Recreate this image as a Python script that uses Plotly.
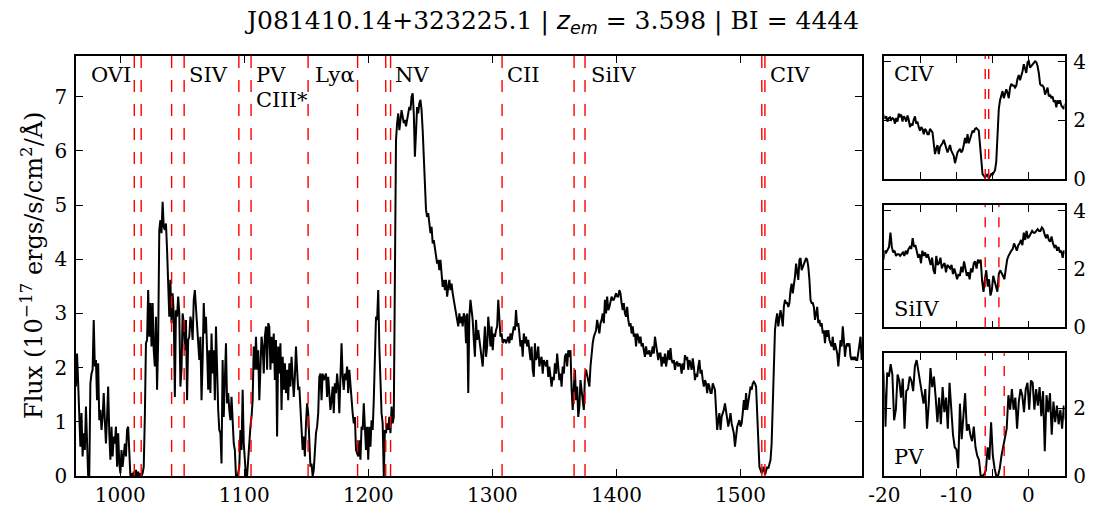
import numpy as np
import plotly.graph_objects as go

# ---------------- data ----------------
# rest-frame wavelength grid of the spectrum (Angstrom)
wave_start = 964.25
wave_step = 0.896

# flux (1e-17 erg/s/cm^2/A) in four consecutive pieces
flux_blue = [
    1.65, 2.26, 1.71, 1.22, 0.54, 1.16, 0.36, 0.79, 0.48, 1.28,
    0.48, 0.00, 0.00, 1.71, 1.89, 1.96, 2.88, 2.02, 2.14, 1.40,
    2.08, 1.03, 1.22, 0.85, 1.09, 1.53, 1.03, 0.60, 1.09, 1.65,
    0.79, 0.30, 0.91, 0.36, 0.73, 0.60, 0.91, 0.17, 0.79, 0.23,
    0.05, 0.48, 0.17, 0.42, 0.60, 0.36, 0.85, 0.91, 0.23, 0.00,
    0.05, 0.00, 0.08, 0.00, 0.11, 0.00, 0.08, 0.00, 0.05, 0.00,
    0.05, 0.17, 1.09, 2.45, 2.51, 3.43, 2.57, 3.19, 2.39, 3.19,
    2.32, 2.02, 2.94, 1.59, 2.51, 4.54, 4.72, 4.48, 5.06, 4.60,
    4.54, 4.66, 4.17, 3.62, 2.94, 3.62, 2.82, 3.37, 3.00, 1.46,
    3.06, 2.94, 3.31, 3.00, 1.65, 1.96, 3.00, 2.82, 2.32, 2.88,
    1.40, 2.51, 2.57, 2.94, 2.82, 2.51, 3.25, 3.43, 3.12, 2.82,
    2.51, 2.14, 2.57, 1.40, 2.14, 3.19, 2.63, 2.94, 2.32, 1.59,
    2.32, 1.53, 2.63, 1.89, 2.32, 1.40, 2.76, 1.89, 1.22, 0.85,
    0.79, 0.23, 2.14, 1.09, 1.71, 2.45, 1.34, 1.53, 1.22, 1.03,
    1.46, 0.85, 0.60, 0.48, 0.00, 0.00, 0.05, 0.17, 0.85, 0.48,
    1.59, 0.60, 0.23, 0.00, 0.00, 0.23, 0.60, 0.91, 1.09, 1.40,
    2.39, 1.96, 2.57, 1.96, 2.32, 1.40, 2.20, 2.57, 2.39, 1.89,
    2.57, 2.76, 1.96, 2.82,
]
flux_lya_nv = [
    2.76, 1.96, 2.57, 2.08, 2.63, 1.77, 2.51, 0.73, 2.39, 1.89,
    2.45, 1.22, 2.20, 1.59, 2.08, 1.53, 1.96, 1.40, 2.08, 1.65,
    2.20, 1.83, 1.46, 1.83, 2.39, 1.96, 1.59, 1.65, 1.22, 0.66,
    0.48, 0.73, 0.36, 0.97, 1.34, 1.16, 0.42, 0.17, 0.23, 0.00,
    0.11, 0.54, 0.79, 0.91, 1.16, 1.83, 1.89, 1.40, 1.89, 1.77,
    1.83, 1.89, 1.46, 1.83, 1.53, 1.22, 1.40, 1.65, 1.16, 1.71,
    1.53, 1.89, 1.65, 1.16, 1.83, 2.45, 1.83, 1.59, 1.89, 1.77,
    2.02, 1.53, 1.96, 1.65, 1.53, 1.16, 0.97, 1.09, 0.48, 0.42,
    0.36, 0.66, 0.30, 0.91, 0.85, 1.34, 0.79, 0.48, 0.91, 0.30,
    0.91, 0.54, 1.03, 0.85, 1.40, 2.08, 2.94, 2.88, 3.43, 2.39,
    1.77, 1.16, 0.97, 0.00, 0.85, 0.79, 0.97, 0.85, 1.09, 0.79,
    1.28, 0.97, 1.09, 3.62, 6.20, 6.51, 6.69, 6.38, 6.57, 6.75,
    6.63, 6.51, 6.57, 6.45, 6.57, 6.69, 6.81, 6.75, 7.00, 7.06,
    6.69, 5.89, 6.51, 6.81, 6.69, 6.88, 6.94, 6.75, 6.38, 5.71,
    5.40, 4.91, 4.78, 4.85, 4.66, 4.48, 4.60, 4.29, 4.35, 4.17,
    4.11, 3.92, 3.99, 3.80, 3.99, 3.80, 3.49, 3.62, 3.43, 3.62,
    3.31, 3.49, 3.62, 3.43, 3.55, 3.37, 3.25, 3.12, 3.00, 2.88,
    2.76, 3.00, 2.82, 2.94, 2.76, 3.00,
]
flux_siiv = [
    2.94, 2.45, 3.00, 1.53, 2.94, 3.25, 3.06, 2.88, 2.51, 2.20,
    2.88, 2.51, 2.69, 2.51, 2.32, 2.08, 2.02, 2.39, 2.76, 2.20,
    2.39, 2.94, 2.63, 2.39, 2.76, 2.32, 2.63, 2.57, 2.69, 2.76,
    3.25, 2.76, 2.57, 2.63, 2.45, 2.51, 2.51, 2.45, 2.51, 2.57,
    2.45, 2.63, 2.51, 2.69, 2.76, 2.69, 3.06, 2.76, 2.82, 2.63,
    2.39, 2.51, 2.20, 2.63, 2.45, 2.57, 2.39, 2.51, 2.26, 2.14,
    2.39, 1.96, 1.83, 2.45, 2.14, 2.20, 2.39, 2.02, 2.14, 2.20,
    1.89, 2.14, 2.08, 2.02, 2.14, 1.83, 2.02, 1.77, 1.65, 1.83,
    1.77, 2.08, 1.89, 2.26, 1.96, 1.77, 1.89, 1.65, 2.02, 1.89,
    2.20, 2.26, 2.02, 2.32, 2.20, 2.32, 1.59, 1.22, 1.65, 1.96,
    1.40, 1.65, 1.09, 1.28, 1.77, 1.53, 1.40, 1.22, 1.83, 1.96,
    1.83, 1.77, 1.65, 2.02, 2.32, 2.45, 2.57, 2.63, 2.69, 2.88,
    2.76, 2.63, 2.82, 2.88, 3.00, 2.82, 3.25, 3.00, 3.31, 3.06,
    3.12, 3.25, 3.31, 3.25, 3.25, 3.31, 3.37, 3.31, 3.31, 3.43,
    3.37, 3.19, 3.06, 3.19, 3.00, 2.94, 3.12, 2.88, 2.76, 2.82,
    2.63, 2.76, 2.57, 2.63, 2.39, 2.63, 2.57, 2.45, 2.57, 2.39,
    2.45, 2.32, 2.20, 2.39, 2.26, 2.26, 2.32, 2.20, 2.26, 2.39,
    2.26, 2.57, 2.39, 2.26, 2.14, 2.26,
]
flux_civ = [
    2.26, 2.02, 2.20, 2.08, 2.26, 2.02, 2.20, 2.32, 2.14, 2.36,
    2.14, 2.08, 2.14, 1.96, 2.08, 2.11, 2.02, 2.08, 2.05, 1.89,
    2.08, 1.96, 2.23, 2.14, 2.20, 1.96, 2.14, 2.08, 1.96, 2.17,
    2.02, 1.77, 1.89, 1.83, 2.02, 2.14, 1.89, 1.96, 1.77, 1.65,
    1.77, 1.71, 1.53, 1.71, 1.65, 1.53, 1.53, 1.71, 1.65, 1.59,
    1.22, 0.85, 1.03, 1.16, 0.85, 1.09, 1.16, 1.22, 1.34, 1.16,
    1.09, 0.91, 1.03, 1.16, 0.97, 0.85, 0.79, 0.54, 0.73, 0.91,
    0.97, 1.03, 0.91, 0.97, 1.16, 1.40, 1.22, 1.53, 1.22, 1.40,
    1.53, 1.65, 1.59, 1.71, 1.74, 1.71, 1.65, 1.16, 0.54, 0.17,
    0.11, 0.05, 0.11, 0.17, 0.02, 0.11, 0.17, 0.14, 0.23, 0.30,
    0.60, 1.46, 2.39, 2.69, 2.88, 3.00, 2.76, 2.88, 3.06, 2.94,
    2.76, 3.12, 3.25, 3.19, 3.19, 3.12, 3.19, 3.43, 3.55, 3.37,
    3.49, 3.68, 3.92, 3.80, 3.62, 3.99, 4.02, 3.80, 3.86, 3.92,
    3.99, 4.02, 3.99, 3.86, 3.62, 3.25, 3.19, 3.19, 3.12, 2.88,
    3.00, 3.12, 2.82, 2.88, 2.76, 2.82, 2.63, 2.69, 2.45, 2.69,
    2.57, 2.69, 2.51, 2.45, 2.39, 2.57, 2.32, 2.45, 2.32, 2.26,
    2.02, 2.32, 2.51, 2.39, 2.76, 2.51, 2.20, 2.39, 2.45, 2.39,
    2.45, 2.20, 2.14, 2.20, 2.14, 2.20, 2.14, 2.14, 2.26, 2.39,
    2.57, 2.14,
]

# absorption-line rest wavelengths (A) and the trough velocity (1000 km/s)
line_names = ["OVI", "SIV", "PV", "CIII*", "Ly\u03b1", "NV", "CII", "SiIV", "CIV"]
line_rest = [
    [1031.93, 1037.62], [1062.66, 1072.97], [1117.98, 1128.01], [1174.93],
    [1215.67], [1238.82, 1242.80], [1334.53], [1393.76, 1402.77], [1548.20, 1550.77],
]
label_wave = [975.0, 1054.0, 1108.0, 1108.0, 1155.5, 1219.5, 1310.5, 1377.5, 1522.0]
label_row = [0, 0, 0, 1, 0, 0, 0, 0, 0]
v_trough = -6.0
c_kms = 299792.458

# velocity panels: ion, reference (blue) rest wavelength, doublet list
panel_ions = ["CIV", "SiIV", "PV"]
panel_ref = [1548.20, 1393.76, 1117.98]
panel_lines = [[1548.20, 1550.77], [1393.76, 1402.77], [1117.98, 1128.01]]
panel_ymax = [4.2, 4.2, 3.63]
vel_major = [-20, -10, 0]
vel_major_text = ["-20", "-10", "0"]
vel_minor = [-15, -5, 5]

title_text = ("J081410.14+323225.1 | <span style=\"font-family:'DejaVu Sans'\"><i>z</i>"
              "<sub><i>em</i></sub></span> = 3.598 | BI = 4444")

# ---------------- figure ----------------
flux = np.concatenate([flux_blue, flux_lya_nv, flux_siiv, flux_civ])
wave = wave_start + wave_step * np.arange(flux.size)

SERIF = "DejaVu Serif"
W, H = 1103, 525
fig = go.Figure()

fig.add_trace(go.Scatter(x=wave, y=flux, mode="lines",
                         line=dict(color="black", width=2),
                         xaxis="x", yaxis="y", showlegend=False, hoverinfo="skip"))

shapes = []
for rests in line_rest:
    for lr in rests:
        lo = lr * (1 + v_trough * 1000 / c_kms)
        shapes.append(dict(type="line", xref="x", yref="y domain", x0=lo, x1=lo, y0=0, y1=1,
                           line=dict(color="red", width=1.4, dash="12px,12px"), layer="above"))

annotations = []
for name, lw, row in zip(line_names, label_wave, label_row):
    annotations.append(dict(text=name, x=lw, xref="x", yref="y domain",
                            y=0.955 - 0.06 * row, xanchor="left", yanchor="middle",
                            showarrow=False, font=dict(family=SERIF, size=21, color="black")))

axis_common = dict(showline=True, linecolor="black", linewidth=1.5, mirror="allticks",
                   ticks="inside", ticklen=7, tickwidth=1, tickcolor="black",
                   showgrid=False, zeroline=False, automargin=False,
                   tickfont=dict(family=SERIF, size=20, color="black"))

# domains (paper units)
x_main = [76 / W, 862 / W]
x_side = [884.3 / W, 1064.5 / W]
y_main = [(H - 476) / H, (H - 56) / H]
y_sides = [[(H - 179) / H, (H - 56) / H],
           [(H - 327.3) / H, (H - 205) / H],
           [(H - 476) / H, (H - 353.3) / H]]

layout = dict(
    width=W, height=H, autosize=False,
    margin=dict(l=0, r=0, t=0, b=0, pad=0, autoexpand=False),
    paper_bgcolor="white", plot_bgcolor="white",
    xaxis=dict(domain=x_main, range=[964.3, 1598.0], tickvals=[1000, 1100, 1200, 1300, 1400, 1500],
               anchor="y", ticklabelstandoff=0, **axis_common),
    yaxis=dict(domain=y_main, range=[0, 7.75], tickvals=list(range(8)), anchor="x",
               ticklabelstandoff=3, **axis_common),
)

label_pos = [(0.0445, 0.854), (0.0445, 0.15), (0.0445, 0.155)]
for i, (ion, ref, dl, ym) in enumerate(zip(panel_ions, panel_ref, panel_lines, panel_ymax)):
    ax = i + 2
    vel = (wave / ref - 1) * c_kms / 1000.0
    sel = (vel >= -20.5) & (vel <= 5.5)
    fig.add_trace(go.Scatter(x=vel[sel], y=flux[sel], mode="lines",
                             line=dict(color="black", width=2),
                             xaxis=f"x{ax}", yaxis=f"y{ax}", showlegend=False, hoverinfo="skip"))
    for lr in dl:
        lo = lr * (1 + v_trough * 1000 / c_kms)
        vl = (lo / ref - 1) * c_kms / 1000.0
        shapes.append(dict(type="line", xref=f"x{ax}", yref=f"y{ax} domain", x0=vl, x1=vl, y0=0, y1=1,
                           line=dict(color="red", width=1.4, dash="10px,10px"), layer="above"))
    ytv = [0, 2, 4] if ym > 4 else [0, 2]
    layout[f"xaxis{ax}"] = dict(domain=x_side, range=[-20, 5], anchor=f"y{ax}",
                                tickvals=vel_major, ticktext=vel_major_text,
                                minor=dict(tickvals=vel_minor, ticks="inside", ticklen=7,
                                           tickwidth=1, tickcolor="black", showgrid=False),
                                showticklabels=(i == 2), ticklabelstandoff=0, **axis_common)
    layout[f"yaxis{ax}"] = dict(domain=y_sides[i], range=[0, ym], anchor=f"x{ax}", side="right",
                                tickvals=ytv, ticklabelstandoff=3, **axis_common)
    lx, ly = label_pos[i]
    annotations.append(dict(text=ion, x=lx, y=ly, xref=f"x{ax} domain", yref=f"y{ax} domain",
                            xanchor="left", yanchor="middle", showarrow=False,
                            font=dict(family=SERIF, size=21, color="black")))

annotations.append(dict(text=title_text, x=0.5, y=(H - 22) / H, xref="paper", yref="paper",
                        xanchor="center", yanchor="middle", showarrow=False,
                        font=dict(family=SERIF, size=25, color="black")))
annotations.append(dict(text="Flux (10<sup>\u221217</sup> ergs/s/cm<sup>2</sup>/\u00c5)",
                        x=32 / W, y=(H - 266) / H, xref="paper", yref="paper",
                        xanchor="center", yanchor="middle", textangle=-90, showarrow=False,
                        font=dict(family=SERIF, size=24, color="black")))

layout["shapes"] = shapes
layout["annotations"] = annotations
fig.update_layout(**layout)
fig.write_html("out.html")
